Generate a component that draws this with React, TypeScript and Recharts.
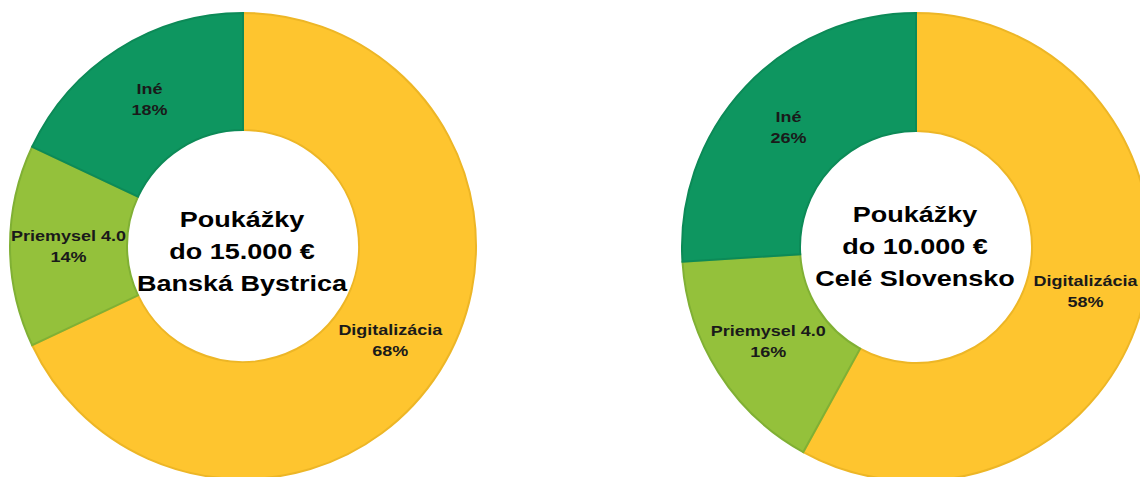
import { PieChart, Pie, Cell } from 'recharts';

const categories = ['Digitalizácia', 'Priemysel 4.0', 'Iné'];
const bbValues = [68, 14, 18];
const skValues = [58, 16, 26];
const bbTitle = ['Poukážky', 'do 15.000 €', 'Banská Bystrica'];
const skTitle = ['Poukážky', 'do 10.000 €', 'Celé Slovensko'];

const fills = ['#FEC52F', '#94C13B', '#0E9660'];
const strokes = ['#EDB626', '#80B034', '#0C8A57'];

const FONT = '"Liberation Sans", Arial, sans-serif';
const RAD = Math.PI / 180;

const bbData = categories.map((name, i) => ({ name, value: bbValues[i] }));
const skData = categories.map((name, i) => ({ name, value: skValues[i] }));

function SliceLabel(props: any) {
  const { cx, cy, midAngle, innerRadius, outerRadius, name, value } = props;
  const r = (innerRadius + outerRadius) / 2;
  const x = cx + r * Math.cos(-midAngle * RAD);
  const y = cy + r * Math.sin(-midAngle * RAD);
  return (
    <g transform={`translate(${x},${y}) scale(1.2,1)`}>
      <text
        x={0}
        y={0}
        textAnchor="middle"
        fill="#1a1a1a"
        fontFamily={FONT}
        fontWeight="bold"
        fontSize={15}
      >
        <tspan x={0} dy={-5}>{name}</tspan>
        <tspan x={0} dy={21}>{value}%</tspan>
      </text>
    </g>
  );
}

function CenterTitle({ lines, x, y }: { lines: string[]; x: number; y: number }) {
  return (
    <div
      style={{
        position: 'absolute',
        left: x - 150,
        top: y - 49,
        width: 300,
        textAlign: 'center',
        fontFamily: FONT,
        fontWeight: 'bold',
        fontSize: 22.5,
        lineHeight: '32px',
        color: '#000',
        transform: 'scaleX(1.2)',
      }}
    >
      {lines.map((l) => (
        <div key={l}>{l}</div>
      ))}
    </div>
  );
}

export default function App() {
  return (
    <div style={{ position: 'relative', width: 1140, height: 477, background: '#fff', overflow: 'hidden' }}>
      <style>{'body{margin:0}'}</style>
      <PieChart width={1140} height={477} margin={{ top: 0, right: 0, bottom: 0, left: 0 }}>
        <Pie
          data={bbData}
          dataKey="value"
          nameKey="name"
          cx={243}
          cy={246}
          innerRadius={116}
          outerRadius={233}
          startAngle={90}
          endAngle={-270}
          label={SliceLabel}
          labelLine={false}
          isAnimationActive={false}
        >
          {bbData.map((d, i) => (
            <Cell key={d.name} fill={fills[i]} stroke={strokes[i]} strokeWidth={2} />
          ))}
        </Pie>
        <Pie
          data={skData}
          dataKey="value"
          nameKey="name"
          cx={916}
          cy={247}
          innerRadius={116}
          outerRadius={234}
          startAngle={90}
          endAngle={-270}
          label={SliceLabel}
          labelLine={false}
          isAnimationActive={false}
        >
          {skData.map((d, i) => (
            <Cell key={d.name} fill={fills[i]} stroke={strokes[i]} strokeWidth={2} />
          ))}
        </Pie>
      </PieChart>
      <CenterTitle lines={bbTitle} x={242} y={253} />
      <CenterTitle lines={skTitle} x={915} y={248} />
    </div>
  );
}
